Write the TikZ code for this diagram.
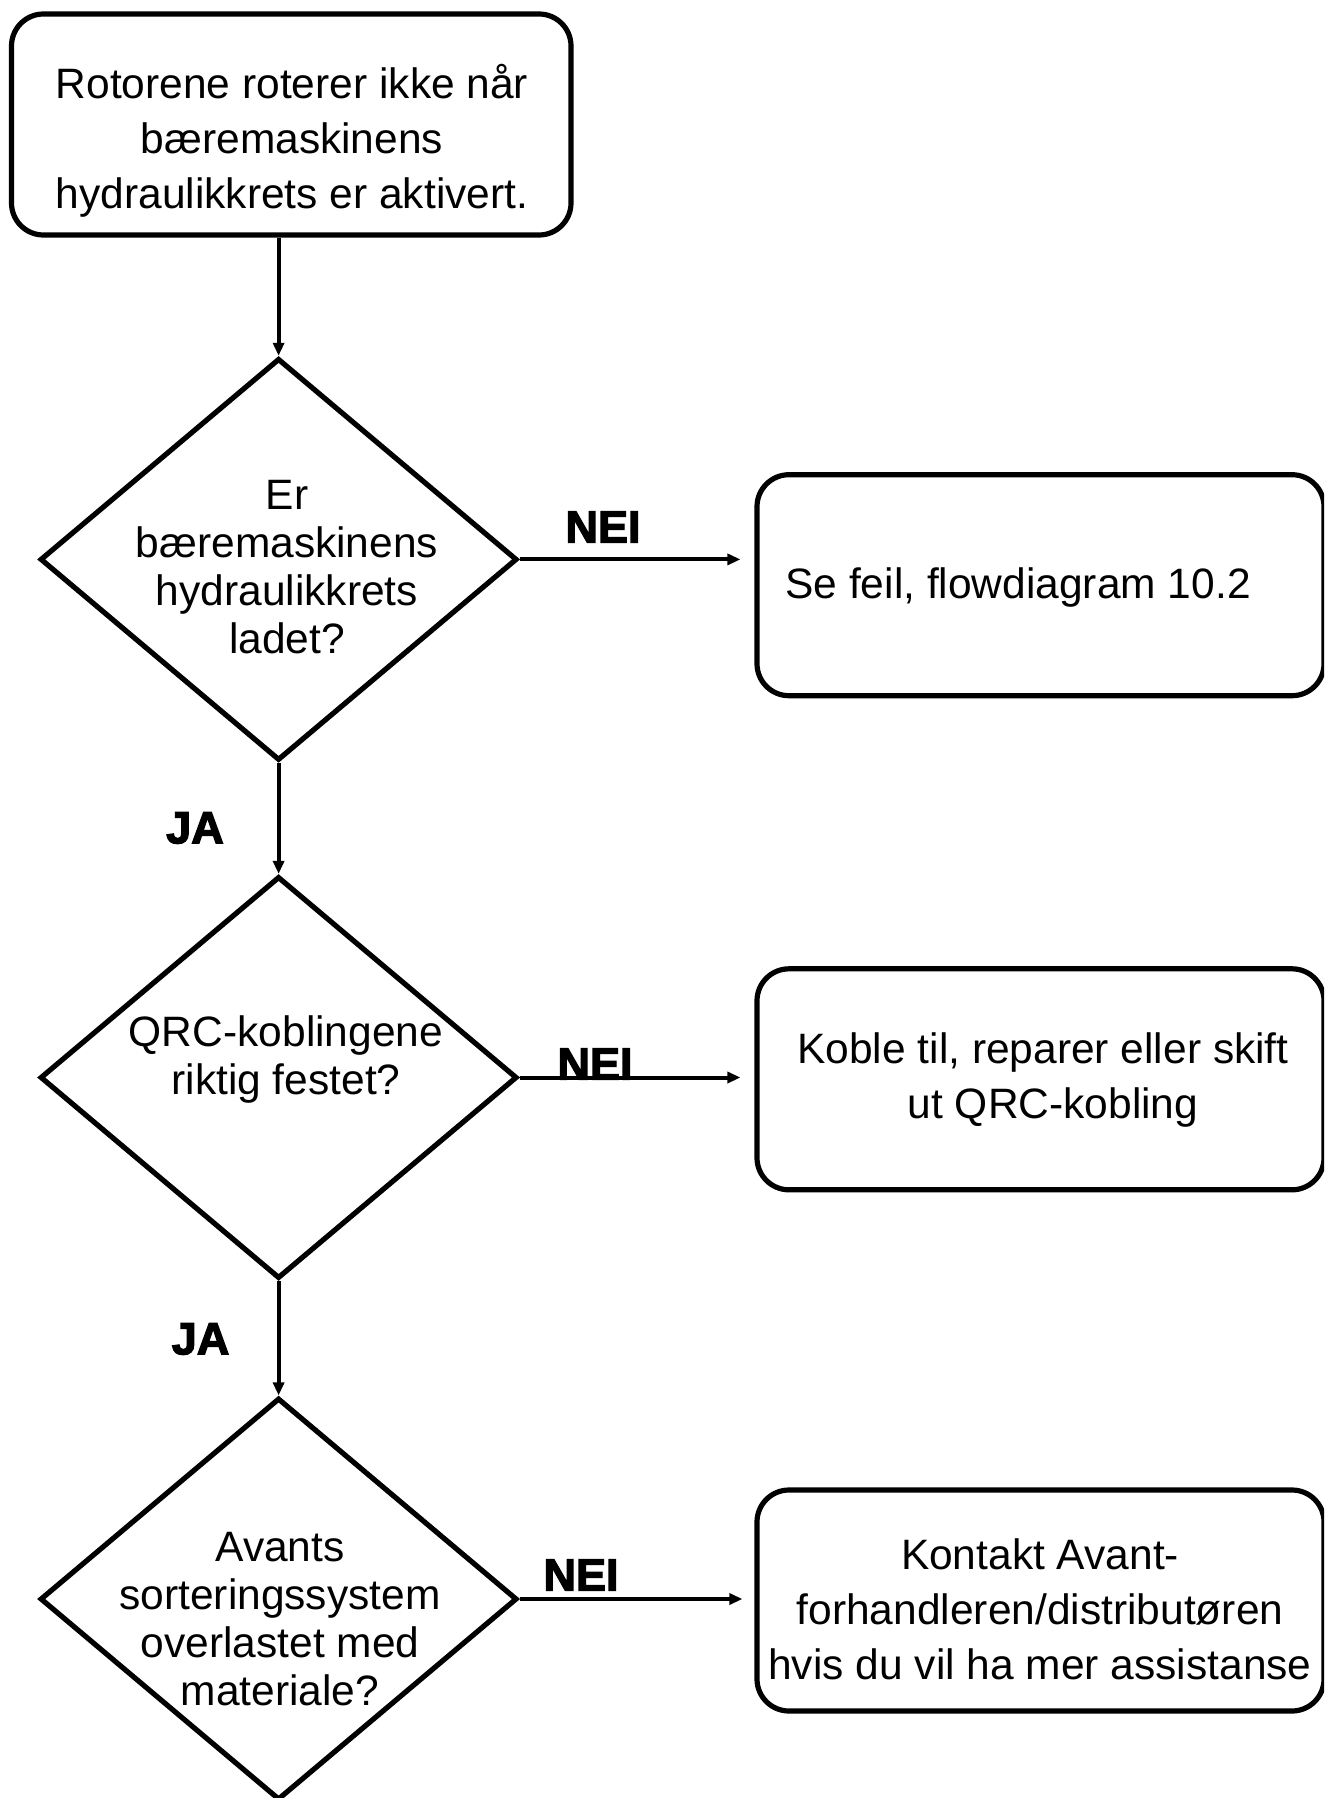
\documentclass[tikz,border=0pt]{standalone}
\usepackage{fontspec}
\setmainfont{Liberation Sans}
\newfontfamily\heavyfont[FakeBold=3]{Liberation Sans Bold}
\usetikzlibrary{shapes.geometric,arrows.meta}
\begin{document}
\begin{tikzpicture}[x=0.5pt,y=-0.5pt,
  box/.style={draw, line width=2.6pt, rounded corners=16pt, inner sep=0pt,
    minimum height=110.5pt},
  dia/.style={draw, diamond, line width=2.6pt, inner sep=0pt,
    minimum width=238.5pt, minimum height=201pt},
  boxtxt/.style={align=center, inner sep=0pt, font=\fontsize{21.25}{27.5}\selectfont},
  diatxt/.style={align=center, inner sep=0pt, font=\fontsize{21.25}{24}\selectfont},
  lbl/.style={inner sep=0pt, font=\heavyfont\fontsize{22.5}{24}\selectfont},
  conn/.style={line width=2pt, -{Triangle[length=6.5pt,width=5.5pt]}}]
\useasboundingbox (0,0) rectangle (1324,1798);
\clip (0,0) rectangle (1324,1798);
\fill[white] (0,0) rectangle (1324,1798);

% boxes
\node[box, minimum width=279.75pt] (b1) at (291.25,124.5) {};
\node[box, minimum width=283.5pt] (b2) at (1040.5,585.2) {};
\node[box, minimum width=283.5pt] (b3) at (1040.5,1079.3) {};
\node[box, minimum width=283.5pt] (b4) at (1040.5,1600.5) {};

% diamonds
\node[dia] (d1) at (278.6,559.4) {};
\node[dia] (d2) at (278.6,1077.5) {};
\node[dia] (d3) at (278.6,1599) {};

% texts
\node[boxtxt] (t1) at (292,141) {Rotorene roterer ikke når\\bæremaskinens\\hydraulikkrets er aktivert.};
\node[boxtxt, anchor=west] (t2) at (785,588) {Se feil, flowdiagram 10.2};
\node[boxtxt] (t3) at (1043,1079.5) {Koble til, reparer eller skift\\\hspace*{10pt}ut QRC-kobling};
\node[boxtxt] (t4) at (1040,1609) {Kontakt Avant-\\forhandleren/distributøren\\hvis du vil ha mer assistanse};

\node[diatxt] (q1) at (287,567) {Er\\bæremaskinens\\hydraulikkrets\\ladet?};
\node[diatxt] (q2) at (286,1059.5) {QRC-koblingene\\riktig festet?};
\node[diatxt] (q3) at (280,1619) {Avants\\sorteringssystem\\overlastet med\\materiale?};

% labels
\node[lbl] (nei1) at (603,527) {NEI};
\node[lbl] (nei2) at (595,1064) {NEI};
\node[lbl] (nei3) at (581,1575) {NEI};
\node[lbl] (ja1) at (195,828) {JA};
\node[lbl] (ja2) at (200.6,1339) {JA};

% connectors
\draw[conn] (b1.south -| d1.north) -- (d1.north);
\draw[conn] (d1.south) -- (d2.north);
\draw[conn] (d2.south) -- (d3.north);
\draw[conn, shorten >=7pt] (d1.east) -- (d1.east -| b2.west);
\draw[conn, shorten >=7pt] (d2.east) -- (d2.east -| b3.west);
\draw[conn, shorten >=6pt] (d3.east) -- (d3.east -| b4.west);
\end{tikzpicture}
\end{document}
